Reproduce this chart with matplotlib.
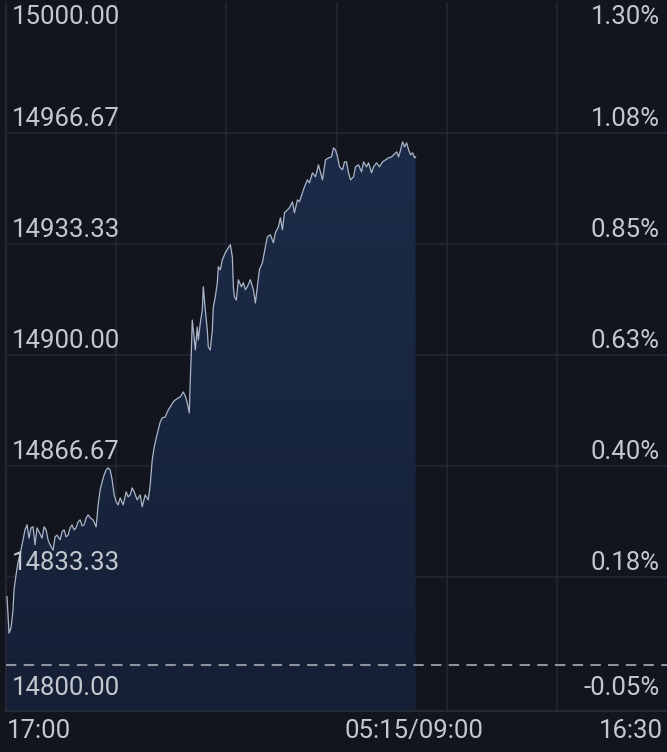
import numpy as np
import matplotlib.pyplot as plt
from matplotlib.colors import LinearSegmentedColormap

# intraday quote, x = minute slot from 17:00 (660 slots across the session)
t = [1, 3, 5, 7, 8, 10, 12, 14, 16, 19,
     21, 23, 25, 27, 29, 31, 33, 36, 38, 40,
     42, 44, 47, 49, 51, 54, 56, 58, 60, 62,
     64, 66, 68, 70, 72, 74, 76, 78, 80, 82,
     84, 87, 90, 92, 94, 96, 98, 100, 102, 104,
     106, 108, 110, 112, 114, 117, 120, 122, 124, 126,
     128, 131, 134, 136, 139, 142, 144, 146, 148, 150,
     152, 154, 156, 159, 162, 164, 167, 169, 172, 174,
     177, 179, 181, 183, 184, 185, 186, 187, 189, 191,
     192, 194, 196, 197, 199, 201, 202, 204, 206, 207,
     209, 211, 212, 214, 216, 219, 222, 224, 226, 227,
     228, 230, 232, 235, 237, 239, 241, 244, 247, 249,
     251, 253, 256, 259, 261, 264, 267, 269, 272, 274,
     276, 278, 281, 283, 286, 288, 291, 293, 296, 298,
     301, 303, 306, 309, 312, 316, 319, 322, 325, 327,
     329, 331, 333, 336, 338, 340, 342, 344, 347, 349,
     352, 355, 357, 360, 362, 365, 367, 370, 373, 376,
     379, 382, 385, 387, 390, 392, 394, 396, 398, 400,
     402, 404, 406, 408, 409]
price = [14827.4, 14816.5, 14818.1, 14823.4, 14829.4, 14833.9, 14837.8, 14840.0, 14843.0, 14847.5,
         14849.0, 14845.0, 14848.1, 14848.4, 14843.0, 14848.1, 14846.9, 14845.0, 14848.4, 14847.5,
         14844.5, 14843.0, 14841.4, 14845.4, 14845.9, 14844.5, 14846.9, 14847.5, 14845.4, 14845.9,
         14848.1, 14849.0, 14847.5, 14848.1, 14849.9, 14850.5, 14848.7, 14849.0, 14851.1, 14852.0,
         14851.1, 14850.5, 14848.4, 14855.0, 14859.5, 14861.9, 14864.0, 14865.5, 14866.1, 14865.5,
         14862.5, 14858.0, 14855.9, 14855.0, 14857.1, 14855.0, 14858.9, 14857.4, 14858.0, 14860.1,
         14858.9, 14856.5, 14858.0, 14854.4, 14858.0, 14856.5, 14861.0, 14868.5, 14872.4, 14875.1,
         14877.5, 14879.9, 14881.1, 14881.4, 14883.5, 14884.4, 14885.9, 14886.5, 14887.1, 14887.4,
         14888.9, 14887.7, 14885.6, 14882.6, 14892.5, 14900.6, 14910.5, 14907.5, 14901.5, 14908.4,
         14904.5, 14909.6, 14913.5, 14920.5, 14913.5, 14907.5, 14902.4, 14901.5, 14907.5, 14914.4,
         14917.5, 14921.7, 14926.5, 14925.6, 14928.6, 14930.7, 14932.2, 14933.1, 14929.5, 14920.5,
         14917.5, 14916.5, 14922.6, 14920.5, 14921.7, 14919.6, 14920.5, 14922.6, 14919.6, 14915.6,
         14920.5, 14925.6, 14927.7, 14932.5, 14935.5, 14936.1, 14933.7, 14936.7, 14938.5, 14941.2,
         14937.6, 14942.7, 14943.6, 14944.2, 14946.0, 14942.7, 14946.6, 14946.0, 14948.7, 14950.5,
         14952.6, 14951.7, 14954.7, 14953.5, 14957.1, 14952.6, 14958.6, 14959.2, 14959.5, 14962.2,
         14961.6, 14959.5, 14956.5, 14955.6, 14958.0, 14958.0, 14954.7, 14952.6, 14953.5, 14956.5,
         14957.1, 14955.0, 14958.0, 14956.5, 14957.7, 14954.7, 14956.5, 14957.7, 14956.5, 14958.0,
         14958.6, 14959.2, 14959.5, 14960.1, 14961.0, 14959.5, 14961.6, 14964.0, 14962.5, 14963.7,
         14961.6, 14960.1, 14960.7, 14959.2, 14959.5]

prev_close = 14807.0
y_ticks = [15000.00, 14966.67, 14933.33, 14900.00, 14866.67, 14833.33, 14800.00]
x_labels = ["17:00", "05:15/09:00", "16:30"]
x_label_pos = [0, 407, 660]

BG = '#12151d'
TXT = '#c3c7cf'
GRID = '#222733'
YMIN, YMAX = 14793.1, 15006.0

plt.rcParams['font.family'] = ['Roboto', 'DejaVu Sans']

fig = plt.figure(figsize=(6.67, 7.52), dpi=100, facecolor=BG)
ax = fig.add_axes([6/667, 41/752, 661/667, 709/752], facecolor=BG)

ax.set_xlim(0, 660)
ax.set_ylim(YMIN, YMAX)

# grid (only the inner price levels have lines)
for v in y_ticks[1:-1]:
    ax.axhline(v, color=GRID, lw=1.2, zorder=1)
for xv in [110, 220, 330, 440, 550]:
    ax.axvline(xv, color=GRID, lw=1.2, zorder=1)

# area under the line with a soft vertical gradient
poly = ax.fill_between(t, price, YMIN, color='none', lw=0, zorder=2)
cmap = LinearSegmentedColormap.from_list('fill', ['#152036', '#1c2b48'])
grad = np.linspace(0, 1, 256).reshape(-1, 1)
im = ax.imshow(grad, cmap=cmap, aspect='auto', origin='lower',
               extent=[0, 660, YMIN, max(price)], zorder=2)
im.set_clip_path(poly.get_paths()[0], transform=ax.transData)

ax.plot(t, price, color='#aab5c8', lw=0.9, zorder=3)
ax.axhline(prev_close, color='#8e939d', lw=1.5, ls=(0, (5, 3.5)), zorder=4)

for s in ['top', 'right']:
    ax.spines[s].set_visible(False)
ax.spines['left'].set_color('#262b36')
ax.spines['bottom'].set_color('#2a303b')
ax.spines['left'].set_linewidth(1.2)
ax.spines['bottom'].set_linewidth(1.2)
ax.set_xticks([])
ax.set_yticks([])

offs = [5, 14, 14, 14, 14, 14, 0]
for v, o in zip(y_ticks, offs):
    pct = (v / prev_close - 1) * 100
    ax.annotate(f"{v:.2f}", xy=(0, v), xycoords=('axes fraction', 'data'),
                xytext=(6, o), textcoords='offset pixels', ha='left', va='center',
                color=TXT, fontsize=18.5, zorder=5)
    ax.annotate(f"{pct:.2f}%", xy=(1, v), xycoords=('axes fraction', 'data'),
                xytext=(-7, o), textcoords='offset pixels', ha='right', va='center',
                color=TXT, fontsize=18.5, zorder=5)

has = ['left', 'center', 'right']
dx = [1, 0, -4]
for lab, xp, ha, d in zip(x_labels, x_label_pos, has, dx):
    ax.annotate(lab, xy=(xp, 0), xycoords=('data', 'axes fraction'),
                xytext=(d, -20), textcoords='offset pixels', ha=ha, va='center',
                color=TXT, fontsize=18.5, annotation_clip=False)

fig.savefig('out.png', dpi=100, facecolor=BG)
